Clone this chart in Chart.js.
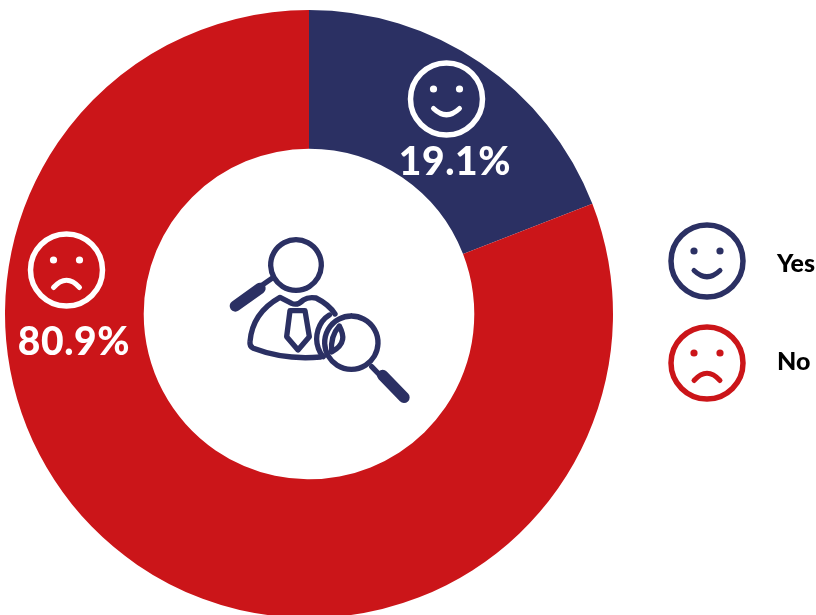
<!DOCTYPE html>
<html>
<head>
<meta charset="utf-8">
<title>Yes / No</title>
<script src="https://cdn.jsdelivr.net/npm/chart.js@4"></script>
<style>
    html, body { margin: 0; padding: 0; background: #fff; overflow: hidden; width: 816px; height: 615px; }
    canvas { display: block; }
</style>
</head>
<body>
<canvas id="myChart" width="816" height="628"></canvas>
<script>
const categories = ['Yes', 'No'];
const shares = [19.1, 80.9];
const sliceColors = ['#2B3063', '#CB1519'];

const WHITE = '#ffffff';
const FONT = '"Lato", sans-serif';

// round face with two eyes; mood 1 smiles, -1 frowns
function drawFace(ctx, cx, cy, color, mood) {
    ctx.save();
    ctx.strokeStyle = color;
    ctx.fillStyle = color;
    ctx.lineCap = 'round';
    ctx.lineWidth = 5.5;
    ctx.beginPath();
    ctx.arc(cx, cy, 36, 0, Math.PI * 2);
    ctx.stroke();
    [-13, 13].forEach(dx => {
        ctx.beginPath();
        ctx.arc(cx + dx, cy - 10, 3.6, 0, Math.PI * 2);
        ctx.fill();
    });
    ctx.lineWidth = 5;
    ctx.beginPath();
    if (mood > 0) {
        ctx.moveTo(cx - 13, cy + 9.5);
        ctx.quadraticCurveTo(cx, cy + 22, cx + 13, cy + 9.5);
    } else {
        ctx.moveTo(cx - 13, cy + 17.5);
        ctx.quadraticCurveTo(cx, cy + 3, cx + 13, cy + 17.5);
    }
    ctx.stroke();
    ctx.restore();
}

// person with tie and two magnifying glasses in the hole of the ring
function drawInspector(ctx, color) {
    ctx.save();
    ctx.translate(210, 220);
    ctx.scale(1 / 3, 1 / 3);
    ctx.strokeStyle = color;
    ctx.lineJoin = 'round';
    ctx.lineCap = 'round';

    const thin = [
        'M258 59 a76 76 0 1 0 0.01 0',                    // head glass
        'M190 172 L150 200',                              // head glass neck
        'M424 288 a80 80 0 1 0 0.01 0',                   // lower glass
        'M485 440 L522 478',                              // lower glass neck
        // shoulders and body
        'M332 411 C255 418 190 408 130 385 Q118 380 120 365 C125 300 160 260 210 232 L245 250 ' +
            'Q262 258 280 240 Q295 230 318 234 C340 245 360 258 375 282',
        // crescent beside the lower glass
        'M358 285 C325 305 312 350 325 385 Q330 400 340 410',
        // tie
        'M240 272 L285 272 L298 350 L264 390 L230 350 Z',
        // fold of the shirt seen through the glass
        'M388 318 C402 345 408 372 365 396 C362 365 368 340 388 318 Z'
    ];
    ctx.lineWidth = 16;
    thin.forEach(d => ctx.stroke(new Path2D(d)));

    ctx.lineWidth = 34;
    ctx.stroke(new Path2D('M150 205 L76 258'));
    ctx.stroke(new Path2D('M518 466 L582 532'));
    ctx.restore();
}

const decorationPlugin = {
    id: 'decoration',
    afterDatasetsDraw(chart) {
        const ctx = chart.ctx;

        drawInspector(ctx, sliceColors[0]);
        drawFace(ctx, 446.5, 99, WHITE, 1);
        drawFace(ctx, 66.5, 270, WHITE, -1);

        ctx.save();
        ctx.fillStyle = WHITE;
        ctx.textAlign = 'center';
        ctx.textBaseline = 'alphabetic';
        ctx.font = `900 39px ${FONT}`;
        ctx.letterSpacing = '0.6px';
        ctx.fillText(shares[0].toFixed(1) + '%', 455, 175);
        ctx.fillText(shares[1].toFixed(1) + '%', 74, 355);
        ctx.letterSpacing = '0px';

        // legend on the right
        drawFace(ctx, 707, 261, sliceColors[0], 1);
        drawFace(ctx, 707, 363, sliceColors[1], -1);
        ctx.fillStyle = '#000000';
        ctx.textAlign = 'left';
        ctx.font = `900 25px ${FONT}`;
        ctx.fillText(categories[0], 777, 272);
        ctx.fillText(categories[1], 777, 370);
        ctx.restore();
    }
};

const configuration = {
    type: 'doughnut',
    data: {
        labels: categories,
        datasets: [{
            data: shares,
            backgroundColor: sliceColors,
            borderWidth: 0,
            radius: 304,
            cutout: 168
        }]
    },
    options: {
        responsive: false,
        animation: false,
        layout: { padding: { right: 198 } },
        plugins: {
            legend: { display: false },
            tooltip: { enabled: false }
        }
    },
    plugins: [decorationPlugin]
};

new Chart(document.getElementById('myChart'), configuration);
</script>
</body>
</html>
